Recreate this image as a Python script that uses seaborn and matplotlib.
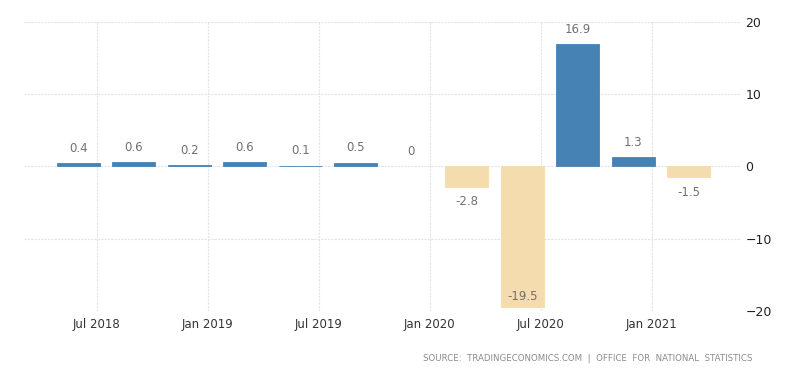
import seaborn as sns
import matplotlib.pyplot as plt
import pandas as pd

# UK GDP growth rate, quarter on quarter (%)
quarters = ['Q2 2018', 'Q3 2018', 'Q4 2018', 'Q1 2019', 'Q2 2019', 'Q3 2019',
            'Q4 2019', 'Q1 2020', 'Q2 2020', 'Q3 2020', 'Q4 2020', 'Q1 2021']
growth = [0.4, 0.6, 0.2, 0.6, 0.1, 0.5, 0, -2.8, -19.5, 16.9, 1.3, -1.5]
tick_labels = ['Jul 2018', 'Jan 2019', 'Jul 2019', 'Jan 2020', 'Jul 2020', 'Jan 2021']
y_ticks = [-20, -10, 0, 10, 20]

df = pd.DataFrame({'quarter': quarters, 'growth': growth})
colors = ['#4682b4' if v >= 0 else '#f5dcae' for v in growth]

sns.set_style('white')
fig = plt.figure(figsize=(8, 3.73), dpi=100)
ax = fig.add_axes([0.03, 0.166, 0.895, 0.776])

sns.barplot(data=df, x='quarter', y='growth', hue='quarter', palette=colors,
            legend=False, width=0.775, saturation=1, ax=ax)

# no white outlines; keep tiny bars visible (but nothing for a zero bar)
for p in ax.patches:
    p.set_edgecolor(p.get_facecolor())
    p.set_linewidth(0.6 if p.get_height() != 0 else 0)

ax.set_ylim(-20, 20)
ax.set_xlim(-0.98, 11.92)

# labels on bars
for i, v in enumerate(growth):
    txt = f'{v:g}'
    if v >= 0:
        ax.annotate(txt, (i, v), xytext=(0, 6), textcoords='offset points',
                    ha='center', va='bottom', fontsize=8.5, color='#707070')
    elif v - 4 < -20:
        ax.annotate(txt, (i, v), xytext=(0, 3), textcoords='offset points',
                    ha='center', va='bottom', fontsize=8.5, color='#707070')
    else:
        ax.annotate(txt, (i, v), xytext=(0, -6), textcoords='offset points',
                    ha='center', va='top', fontsize=8.5, color='#707070')

ax.set_xticks([2 * k + 1 / 3 for k in range(len(tick_labels))])
ax.set_xticklabels(tick_labels, fontsize=8.5, color='#333333')
ax.set_yticks(y_ticks)
ax.yaxis.tick_right()
ax.tick_params(axis='y', labelsize=9, colors='#222222', length=0, pad=4)
ax.tick_params(axis='x', length=0, pad=5)
ax.set_xlabel('')
ax.set_ylabel('')

ax.grid(True, color='#e4e4e4', linestyle=(0, (2, 1)), linewidth=0.8)
ax.set_axisbelow(True)
for s in ax.spines.values():
    s.set_visible(False)

fig.text(0.94, 0.038, 'SOURCE:  TRADINGECONOMICS.COM  |  OFFICE  FOR  NATIONAL  STATISTICS',
         ha='right', va='center', fontsize=6.2, color='#8a8a8a')

fig.savefig('out.png', dpi=100)
